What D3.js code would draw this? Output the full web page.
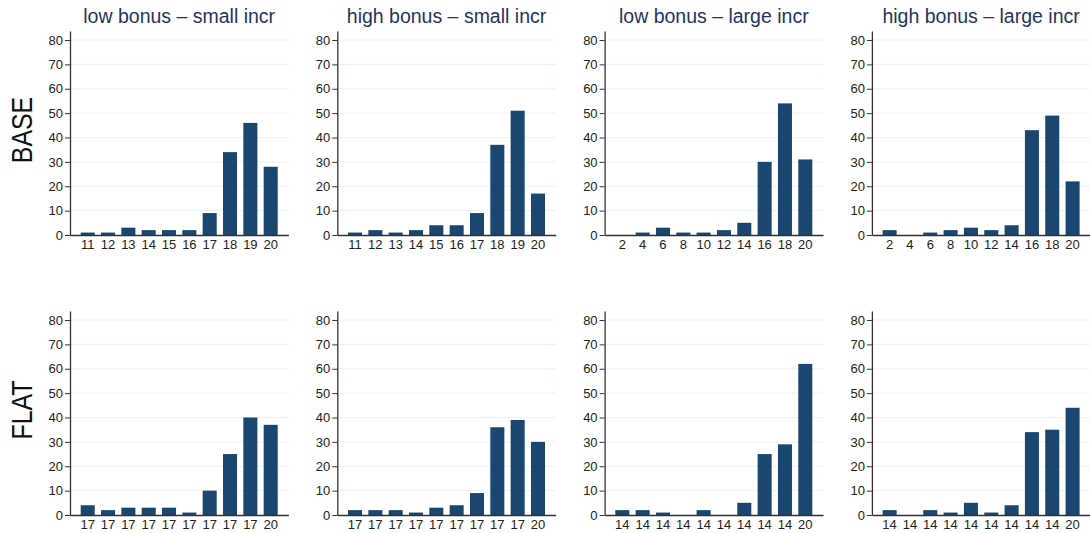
<!DOCTYPE html>
<html>
<head>
<meta charset="utf-8">
<script src="https://cdn.jsdelivr.net/npm/d3@7"></script>
<style>
  html, body { margin: 0; padding: 0; background: #fff; }
  svg { display: block; font-family: "Liberation Sans", Arial, Helvetica, sans-serif; }
</style>
</head>
<body>
<svg id="chart" width="1090" height="533"></svg>
<script>
// Panel titles (columns) and row labels
const columnTitles = ["low bonus \u2013 small incr", "high bonus \u2013 small incr", "low bonus \u2013 large incr", "high bonus \u2013 large incr"];
const rowLabels = ["BASE", "FLAT"];

// Category tick labels per panel
const labelsBaseSmall = ["11", "12", "13", "14", "15", "16", "17", "18", "19", "20"];
const labelsBaseLarge = ["2", "4", "6", "8", "10", "12", "14", "16", "18", "20"];
const labelsFlatSmall = ["17", "17", "17", "17", "17", "17", "17", "17", "17", "20"];
const labelsFlatLarge = ["14", "14", "14", "14", "14", "14", "14", "14", "14", "20"];

// Bar heights (percent) per panel
const baseLowSmall  = [1, 1, 3, 2, 2, 2, 9, 34, 46, 28];
const baseHighSmall = [1, 2, 1, 2, 4, 4, 9, 37, 51, 17];
const baseLowLarge  = [0, 1, 3, 1, 1, 2, 5, 30, 54, 31];
const baseHighLarge = [2, 0, 1, 2, 3, 2, 4, 43, 49, 22];
const flatLowSmall  = [4, 2, 3, 3, 3, 1, 10, 25, 40, 37];
const flatHighSmall = [2, 2, 2, 1, 3, 4, 9, 36, 39, 30];
const flatLowLarge  = [2, 2, 1, 0, 2, 0, 5, 25, 29, 62];
const flatHighLarge = [2, 0, 2, 1, 5, 1, 4, 34, 35, 44];

const yTicks = [0, 10, 20, 30, 40, 50, 60, 70, 80];
const yMax = 83.7;

const panels = [
  { row: 0, col: 0, values: baseLowSmall,  labels: labelsBaseSmall },
  { row: 0, col: 1, values: baseHighSmall, labels: labelsBaseSmall },
  { row: 0, col: 2, values: baseLowLarge,  labels: labelsBaseLarge },
  { row: 0, col: 3, values: baseHighLarge, labels: labelsBaseLarge },
  { row: 1, col: 0, values: flatLowSmall,  labels: labelsFlatSmall },
  { row: 1, col: 1, values: flatHighSmall, labels: labelsFlatSmall },
  { row: 1, col: 2, values: flatLowLarge,  labels: labelsFlatLarge },
  { row: 1, col: 3, values: flatHighLarge, labels: labelsFlatLarge }
];

const svg = d3.select("#chart");

const plotW = 218.4, plotH = 204;
const colX = c => 70 + c * 267.3;
const rowTop = r => 31 + r * 280;

const barColor = "#1a476f";
const gridColor = "#eaf2f3";
const axisColor = "#333333";
const textColor = "#222222";

panels.forEach(p => {
  const g = svg.append("g").attr("transform", `translate(${colX(p.col)},${rowTop(p.row)})`);

  const x = d3.scaleBand()
    .domain(d3.range(p.values.length))
    .range([0, plotW])
    .paddingInner(0.31)
    .paddingOuter(0.526);

  const y = d3.scaleLinear().domain([0, yMax]).range([plotH, 0]);

  // horizontal grid lines
  g.append("g").selectAll("line")
    .data(yTicks.filter(t => t > 0))
    .join("line")
    .attr("x1", 0).attr("x2", plotW)
    .attr("y1", d => y(d)).attr("y2", d => y(d))
    .attr("stroke", gridColor).attr("stroke-width", 1);

  // bars
  g.append("g").selectAll("rect")
    .data(p.values)
    .join("rect")
    .attr("x", (d, i) => x(i))
    .attr("width", x.bandwidth())
    .attr("y", d => y(d))
    .attr("height", d => y(0) - y(d))
    .attr("fill", barColor);

  // y axis
  const yAxis = g.append("g")
    .call(d3.axisLeft(y).tickValues(yTicks).tickSize(5).tickPadding(2).tickSizeOuter(0));
  yAxis.select(".domain").attr("stroke", axisColor).attr("stroke-width", 1.3);
  yAxis.selectAll(".tick line").attr("stroke", axisColor).attr("stroke-width", 1);
  yAxis.selectAll(".tick text").attr("fill", textColor).style("font-size", "13px")
    .style("font-family", "'Liberation Sans', Arial, sans-serif");

  // x axis
  const xAxis = g.append("g")
    .attr("transform", `translate(0,${plotH})`)
    .call(d3.axisBottom(x).tickFormat(i => p.labels[i]).tickSize(0).tickPadding(5).tickSizeOuter(0));
  xAxis.select(".domain").attr("stroke", axisColor).attr("stroke-width", 1.3);
  xAxis.selectAll(".tick text").attr("fill", textColor).style("font-size", "13px")
    .style("font-family", "'Liberation Sans', Arial, sans-serif");
});

// column titles
columnTitles.forEach((t, c) => {
  svg.append("text")
    .attr("x", colX(c) + plotW / 2)
    .attr("y", 23)
    .attr("text-anchor", "middle")
    .attr("fill", "#1f3461")
    .style("font-size", "19.5px")
    .text(t);
});

// row labels, rotated
rowLabels.forEach((t, r) => {
  svg.append("text")
    .attr("transform", `translate(31.5,${130 + r * 280}) rotate(-90) scale(0.83,1)`)
    .attr("text-anchor", "middle")
    .attr("fill", "#111111")
    .style("font-size", "30px")
    .text(t);
});
</script>
</body>
</html>
